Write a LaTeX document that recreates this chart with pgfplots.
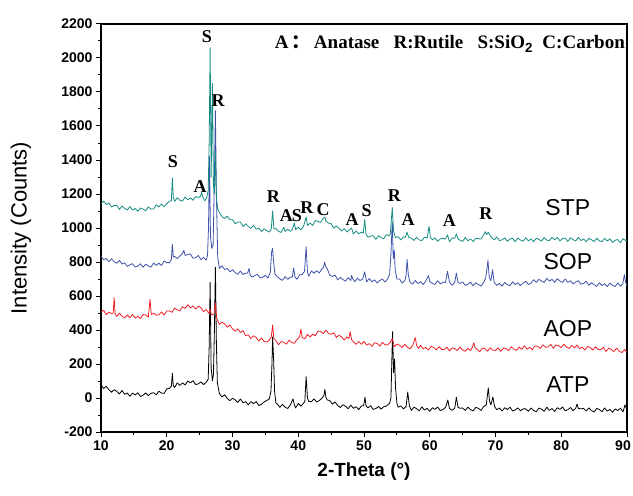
\documentclass[border=0pt]{standalone}
\usepackage{fontspec}
\setmainfont{Liberation Sans}
\newfontfamily\timesf{Liberation Serif}
\newfontfamily\cjk{Noto Sans CJK SC}
\usepackage{pgfplots}
\pgfplotsset{compat=1.18}
\definecolor{cteal}{RGB}{22,140,130}
\definecolor{cblue}{RGB}{62,82,170}
\definecolor{cred}{RGB}{236,32,36}
\begin{document}
\begin{tikzpicture}
\begin{axis}[name=ax, at={(0,0)}, anchor=south west,
  scale only axis, width=526pt, height=408pt,
  xmin=10, xmax=90, ymin=-200, ymax=2200,
  xtick={10,20,...,80}, minor x tick num=1,
  extra x ticks={90},
  extra x tick style={xticklabel style={xshift=-4pt}},
  ytick={-200,0,...,2200}, minor y tick num=1,
  tick align=outside, xtick pos=bottom, ytick pos=left,
  major tick length=5pt, minor tick length=3pt,
  axis line style={line width=1.1pt},
  every tick/.style={black, line width=1pt},
  tick label style={font=\bfseries\fontsize{14}{14}\selectfont},
  /pgf/number format/assume math mode=true,
  /pgf/number format/1000 sep={},
  xlabel={2-Theta (°)}, ylabel={Intensity (Counts)},
  xlabel style={font=\bfseries\fontsize{19}{19}\selectfont, at={(axis description cs:0.5,0)}, yshift=-40pt, anchor=center},
  ylabel style={font=\fontsize{22}{22}\selectfont, at={(axis description cs:-0.152,0.5)}, anchor=center},
  clip=true,
  every axis plot/.append style={line width=0.8pt, line join=round}]

% ATP (black)
\addplot[black] coordinates {
(10.0,76) (10.4,56) (10.8,69) (11.2,48) (11.6,34) (12.0,49) (12.4,39) (12.8,24) (13.2,44) (13.6,22)
(14.0,29) (14.4,10) (14.8,29) (15.2,18) (15.6,31) (16.0,9) (16.4,16) (16.8,30) (17.2,14) (17.6,28)
(18.0,31) (18.4,19) (18.8,40) (19.2,29) (19.6,27) (20.0,54) (20.4,57) (20.7,70) (20.85,145) (21.0,72)
(21.2,62) (21.6,89) (22.0,74) (22.4,89) (22.8,77) (23.2,100) (23.6,89) (24.0,102) (24.4,79) (24.8,83)
(25.2,95) (25.6,79) (26.0,93) (26.3,110) (26.45,300) (26.6,680) (26.75,180) (26.95,100) (27.1,140) (27.25,400)
(27.4,770) (27.55,320) (27.7,90) (28.0,26) (28.4,6) (28.8,19) (29.2,-2) (29.6,-16) (30.0,-1) (30.4,-11)
(30.8,-26) (31.2,-6) (31.6,-28) (32.0,-21) (32.4,-40) (32.8,-21) (33.2,-33) (33.6,-21) (34.0,-44) (34.4,-37)
(34.8,-23) (35.2,-15) (35.6,-5) (35.85,40) (36.0,200) (36.1,360) (36.25,230) (36.4,40) (36.6,-30) (36.8,-34)
(37.2,-55) (37.6,-37) (38.0,-54) (38.4,-62) (38.8,-41) (39.2,-5) (39.4,-38) (39.6,-58) (40.0,-32) (40.4,-48)
(40.8,-31) (41.0,-20) (41.2,125) (41.4,0) (41.6,-20) (42.0,-22) (42.4,-5) (42.8,-23) (43.2,-15) (43.6,-1)
(43.9,15) (44.05,50) (44.2,5) (44.4,-11) (44.8,-16) (45.2,-36) (45.6,-23) (46.0,-44) (46.4,-56) (46.8,-39)
(47.2,-49) (47.6,-63) (48.0,-42) (48.4,-61) (48.8,-51) (49.2,-68) (49.6,-47) (49.95,-45) (50.15,5) (50.3,-45)
(50.6,-58) (51.0,-45) (51.4,-67) (51.8,-62) (52.2,-50) (52.6,-65) (53.0,-51) (53.4,-48) (53.9,-30) (54.1,0)
(54.25,250) (54.35,390) (54.5,150) (54.65,230) (54.8,60) (55.0,-30) (55.2,-55) (55.6,-46) (56.0,-64) (56.4,-50)
(56.65,35) (56.9,-45) (57.2,-73) (57.6,-54) (58.0,-63) (58.4,-75) (58.8,-52) (59.2,-71) (59.6,-61) (60.0,-78)
(60.4,-57) (60.8,-67) (61.2,-53) (61.6,-74) (62.0,-68) (62.4,-55) (62.75,-12) (63.0,-62) (63.4,-72) (63.8,-60)
(64.05,5) (64.3,-55) (64.6,-60) (65.0,-59) (65.4,-73) (65.8,-54) (66.2,-68) (66.6,-76) (67.0,-55) (67.4,-61)
(67.8,-73) (68.2,-50) (68.6,-40) (68.9,60) (69.1,-20) (69.3,-40) (69.6,6) (69.85,-50) (70.2,-69) (70.6,-59)
(71.0,-77) (71.4,-57) (71.8,-68) (72.2,-54) (72.6,-76) (73.0,-70) (73.4,-58) (73.8,-75) (74.2,-64) (74.6,-64)
(75.0,-78) (75.4,-59) (75.8,-73) (76.2,-81) (76.6,-59) (77.0,-66) (77.4,-78) (77.8,-54) (78.2,-73) (78.6,-62)
(79.0,-79) (79.4,-57) (79.8,-67) (80.2,-53) (80.6,-75) (81.0,-69) (81.4,-56) (81.8,-74) (82.2,-60) (82.4,-35)
(82.6,-62) (83.0,-63) (83.4,-62) (83.8,-77) (84.2,-58) (84.6,-74) (85.0,-82) (85.4,-61) (85.8,-68) (86.2,-81)
(86.6,-58) (87.0,-77) (87.4,-67) (87.8,-84) (88.2,-64) (88.6,-74) (89.0,-60) (89.4,-81) (89.7,-40) (90.0,-70)
};

% AOP (red)
\addplot[cred] coordinates {
(10.0,505) (10.4,516) (10.8,490) (11.2,505) (11.6,497) (11.85,500) (12.0,590) (12.15,495) (12.4,480) (12.8,499)
(13.2,481) (13.6,471) (14.0,488) (14.4,473) (14.8,491) (15.2,470) (15.6,481) (16.0,467) (16.4,491) (16.8,489)
(17.2,476) (17.45,580) (17.65,490) (18.0,499) (18.4,487) (18.8,489) (19.2,506) (19.6,488) (20.0,512) (20.4,512)
(20.8,504) (21.2,529) (21.6,518) (22.0,514) (22.4,537) (22.8,527) (23.2,549) (23.6,530) (24.0,542) (24.4,523)
(24.8,541) (25.2,531) (25.6,508) (26.0,521) (26.4,498) (26.6,520) (26.8,489) (27.2,494) (27.4,560) (27.6,470)
(28.0,433) (28.4,446) (28.8,436) (29.2,417) (29.6,430) (30.0,407) (30.4,393) (30.8,406) (31.2,385) (31.6,396)
(32.0,367) (32.4,371) (32.8,350) (33.2,366) (33.6,356) (34.0,335) (34.4,352) (34.8,333) (35.2,329) (35.6,340)
(35.9,360) (36.1,430) (36.3,350) (36.6,338) (37.0,313) (37.4,332) (37.8,328) (38.2,317) (38.6,340) (39.0,327)
(39.4,322) (39.8,344) (40.2,360) (40.4,405) (40.6,355) (41.0,349) (41.4,374) (41.8,359) (42.2,375) (42.6,366)
(43.0,394) (43.4,392) (43.8,379) (44.2,399) (44.6,380) (45.0,375) (45.4,384) (45.8,356) (46.2,369) (46.6,359)
(47.0,341) (47.4,360) (47.7,350) (47.9,390) (48.1,345) (48.4,329) (48.8,316) (49.2,332) (49.6,316) (50.0,333)
(50.4,311) (50.8,320) (51.2,304) (51.6,325) (52.0,320) (52.4,306) (52.8,327) (53.2,313) (53.6,312) (54.0,328)
(54.3,350) (54.6,302) (55.0,317) (55.4,311) (55.8,297) (56.2,316) (56.6,299) (57.0,289) (57.4,308) (57.8,355)
(58.0,310) (58.3,292) (58.6,310) (59.0,289) (59.4,298) (59.8,282) (60.2,304) (60.6,298) (61.0,282) (61.4,302)
(61.8,286) (62.2,285) (62.6,299) (63.0,277) (63.4,295) (63.8,291) (64.2,279) (64.6,299) (65.0,283) (65.4,275)
(65.8,293) (66.2,279) (66.5,300) (66.7,325) (66.9,295) (67.2,287) (67.6,272) (68.0,294) (68.4,290) (68.8,275)
(69.2,296) (69.6,281) (70.0,280) (70.4,295) (70.8,274) (71.2,294) (71.6,290) (72.0,279) (72.4,301) (72.8,287)
(73.2,280) (73.6,300) (74.0,287) (74.4,307) (74.8,287) (75.2,298) (75.6,284) (76.0,307) (76.4,304) (76.8,291)
(77.2,313) (77.6,299) (78.0,300) (78.4,315) (78.8,293) (79.2,312) (79.6,308) (80.0,296) (80.4,316) (80.8,300)
(81.2,291) (81.6,309) (82.0,294) (82.4,312) (82.8,290) (83.2,299) (83.6,282) (84.0,303) (84.4,298) (84.8,282)
(85.2,302) (85.6,286) (86.0,284) (86.4,297) (86.8,274) (87.2,292) (87.6,287) (88.0,273) (88.4,293) (88.8,276)
(89.2,267) (89.6,285) (90.0,269)
};

% SOP (blue)
\addplot[cblue] coordinates {
(10.0,834) (10.4,814) (10.8,821) (11.2,801) (11.6,819) (12.0,802) (12.4,792) (12.8,810) (13.2,788) (13.6,795)
(14.0,774) (14.4,784) (14.8,790) (15.2,770) (15.6,776) (16.0,790) (16.4,769) (16.8,787) (17.2,777) (17.6,770)
(18.0,794) (18.4,780) (18.8,793) (19.2,779) (19.6,806) (20.0,797) (20.4,796) (20.7,815) (20.85,905) (21.0,830)
(21.2,833) (21.6,820) (22.0,836) (22.3,845) (22.6,868) (22.8,839) (23.2,844) (23.6,847) (24.0,822) (24.4,826)
(24.8,838) (25.2,814) (25.6,827) (26.0,811) (26.2,840) (26.35,1000) (26.5,1420) (26.65,950) (26.85,880) (27.05,900)
(27.25,1300) (27.4,1690) (27.55,1200) (27.75,830) (28.0,762) (28.4,778) (28.8,756) (29.2,762) (29.6,742) (30.0,755)
(30.4,738) (30.8,728) (31.2,747) (31.6,726) (32.0,734) (32.3,735) (32.5,762) (32.7,722) (33.0,711) (33.4,721)
(33.8,727) (34.2,706) (34.6,710) (35.0,722) (35.4,705) (35.75,740) (35.95,860) (36.1,880) (36.25,800) (36.45,730)
(36.8,714) (37.2,701) (37.6,692) (38.0,714) (38.4,698) (38.8,710) (39.1,712) (39.3,765) (39.5,712) (39.8,698)
(40.2,724) (40.6,727) (40.95,745) (41.2,890) (41.4,740) (41.6,716) (42.0,748) (42.4,734) (42.8,749) (43.2,736)
(43.6,760) (43.85,770) (44.0,800) (44.2,770) (44.4,761) (44.8,722) (45.2,715) (45.6,723) (46.0,695) (46.4,710)
(46.8,697) (47.2,687) (47.6,708) (48.0,691) (48.1,722) (48.3,701) (48.6,684) (49.0,705) (49.4,691) (49.8,700)
(50.1,742) (50.4,683) (50.8,703) (51.2,684) (51.6,695) (52.0,677) (52.4,691) (52.8,700) (53.2,682) (53.6,700)
(53.9,730) (54.1,850) (54.3,1040) (54.45,820) (54.6,870) (54.75,750) (55.0,700) (55.4,700) (55.8,676) (56.2,690)
(56.4,720) (56.55,815) (56.75,720) (57.0,681) (57.4,670) (57.8,691) (58.2,673) (58.6,684) (59.0,667) (59.4,689)
(59.8,720) (60.0,685) (60.4,675) (60.8,668) (61.2,690) (61.6,671) (62.0,681) (62.4,680) (62.7,745) (63.0,682)
(63.4,663) (63.8,680) (64.05,735) (64.3,680) (64.6,674) (65.0,682) (65.4,663) (65.8,668) (66.2,682) (66.6,660)
(67.0,678) (67.4,667) (67.8,659) (68.2,680) (68.5,705) (68.7,760) (68.85,810) (69.05,710) (69.3,690) (69.55,755)
(69.8,680) (70.2,663) (70.6,674) (71.0,658) (71.4,680) (71.8,667) (72.2,661) (72.6,684) (73.0,667) (73.4,678)
(73.8,662) (74.2,676) (74.6,686) (75.0,667) (75.4,676) (75.8,696) (76.2,680) (76.6,698) (77.0,688) (77.4,680)
(77.8,703) (78.2,688) (78.6,698) (79.0,681) (79.4,702) (79.8,688) (80.2,680) (80.6,700) (81.0,680) (81.4,690)
(81.8,671) (82.2,682) (82.6,690) (83.0,669) (83.4,674) (83.8,686) (84.2,663) (84.6,678) (85.0,666) (85.4,656)
(85.8,678) (86.2,661) (86.6,672) (87.0,655) (87.4,676) (87.8,663) (88.2,656) (88.6,677) (89.0,658) (89.35,670)
(89.6,725) (89.8,680) (90.0,660)
};

% STP (teal)
\addplot[cteal] coordinates {
(10.0,1142) (10.4,1158) (10.8,1138) (11.2,1147) (11.6,1123) (12.0,1133) (12.4,1133) (12.8,1109) (13.2,1129) (13.6,1115)
(14.0,1106) (14.4,1126) (14.8,1105) (15.2,1115) (15.6,1098) (16.0,1118) (16.4,1111) (16.8,1101) (17.2,1124) (17.6,1111)
(18.0,1112) (18.4,1136) (18.8,1124) (19.2,1141) (19.6,1125) (20.0,1143) (20.4,1157) (20.7,1160) (20.85,1295) (21.0,1180)
(21.2,1157) (21.6,1178) (22.0,1163) (22.4,1158) (22.8,1182) (23.2,1165) (23.6,1178) (24.0,1163) (24.4,1185) (24.8,1180)
(25.1,1185) (25.3,1210) (25.5,1180) (25.8,1160) (26.1,1180) (26.3,1220) (26.45,1500) (26.6,2060) (26.75,1300) (26.95,1850)
(27.1,1250) (27.25,1200) (27.4,1450) (27.55,1180) (27.75,1110) (28.0,1091) (28.4,1067) (28.8,1056) (29.2,1070) (29.6,1048)
(30.0,1049) (30.4,1025) (30.8,1035) (31.2,1035) (31.6,1009) (32.0,1025) (32.4,1009) (32.8,998) (33.2,1016) (33.6,993)
(34.0,1000) (34.4,979) (34.8,995) (35.2,985) (35.6,976) (35.9,995) (36.1,1100) (36.3,995) (36.6,997) (37.0,980)
(37.4,974) (37.8,1005) (38.0,980) (38.4,993) (38.8,980) (39.1,990) (39.4,1030) (39.6,990) (40.0,1004) (40.4,990)
(40.8,1009) (41.2,1065) (41.4,1015) (41.8,1029) (42.2,1015) (42.6,1044) (43.0,1038) (43.4,1033) (43.8,1057) (44.05,1065)
(44.2,1040) (44.6,1029) (45.0,1025) (45.4,1000) (45.8,1012) (46.2,999) (46.6,982) (47.0,996) (47.4,976) (47.8,990)
(48.1,1000) (48.4,965) (48.8,983) (49.2,965) (49.6,976) (49.9,970) (50.1,1050) (50.3,965) (50.6,946) (51.0,953)
(51.4,955) (51.8,933) (52.2,955) (52.6,943) (53.0,936) (53.4,961) (53.8,955) (54.0,965) (54.3,1120) (54.5,980)
(54.8,944) (55.2,949) (55.6,930) (56.0,948) (56.3,945) (56.55,975) (56.8,945) (57.2,940) (57.6,927) (58.0,946)
(58.4,930) (58.8,926) (59.2,946) (59.6,940) (59.9,1010) (60.1,945) (60.4,930) (60.8,942) (61.2,922) (61.6,936)
(62.0,939) (62.4,935) (62.7,960) (63.0,919) (63.4,941) (63.8,940) (64.05,965) (64.3,935) (64.6,929) (65.0,921)
(65.4,944) (65.8,925) (66.2,936) (66.6,920) (67.0,940) (67.4,937) (67.8,935) (68.2,960) (68.45,978) (68.65,962)
(68.9,975) (69.2,955) (69.5,940) (69.8,930) (70.2,947) (70.6,926) (71.0,930) (71.4,942) (71.8,922) (72.2,935)
(72.6,939) (73.0,919) (73.4,941) (73.8,929) (74.2,922) (74.6,943) (75.0,924) (75.4,936) (75.8,919) (76.2,940)
(76.6,933) (77.0,923) (77.4,944) (77.8,929) (78.2,926) (78.6,946) (79.0,931) (79.4,944) (79.8,924) (80.2,938)
(80.6,941) (81.0,921) (81.4,943) (81.8,931) (82.2,924) (82.6,945) (83.0,926) (83.4,936) (83.8,919) (84.2,939)
(84.6,931) (85.0,920) (85.4,940) (85.8,924) (86.2,920) (86.6,940) (87.0,923) (87.4,936) (87.8,915) (88.2,928)
(88.6,932) (89.0,913) (89.4,937) (89.8,926) (90.0,928)
};

% phase annotations
\begin{scope}[every node/.style={font=\timesf\bfseries\fontsize{18}{18}\selectfont, inner sep=0pt}]
\node at (axis cs:26.1,2124) {S};
\node at (axis cs:27.8,1747) {R};
\node at (axis cs:20.95,1388) {S};
\node at (axis cs:25.06,1241) {A};
\node at (axis cs:36.2,1182) {R};
\node at (axis cs:38.2,1071) {A};
\node at (axis cs:39.8,1071) {S};
\node at (axis cs:41.3,1118) {R};
\node at (axis cs:43.8,1106) {C};
\node at (axis cs:48.2,1047) {A};
\node at (axis cs:50.4,1100) {S};
\node at (axis cs:54.6,1188) {R};
\node at (axis cs:56.7,1047) {A};
\node at (axis cs:63.0,1041) {A};
\node at (axis cs:68.55,1082) {R};
\node[anchor=east, font=\timesf\bfseries\fontsize{19}{19}\selectfont] at (axis cs:89.7,2082) {A\,{\cjk ：}\,Anatase\ \ \ R:Rutile\ \ \ S:SiO$_{\mathbf 2}$\ \ C:Carbon};
\end{scope}

% sample labels
\begin{scope}[every node/.style={font=\fontsize{23}{23}\selectfont, inner sep=0pt}]
\node at (axis cs:81.0,1118) {STP};
\node at (axis cs:81.0,800) {SOP};
\node at (axis cs:81.0,406) {AOP};
\node at (axis cs:81.0,77) {ATP};
\end{scope}
\end{axis}
\pgfresetboundingbox
\path[use as bounding box] ([xshift=-101pt,yshift=-63pt]ax.south west) rectangle ([xshift=6pt,yshift=24pt]ax.north east);
\end{tikzpicture}
\end{document}
